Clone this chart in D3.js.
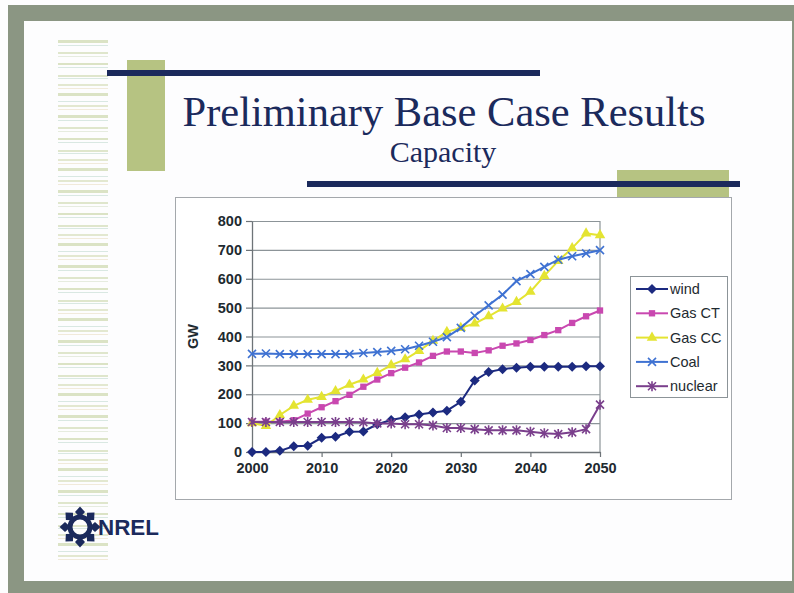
<!DOCTYPE html>
<html>
<head>
<meta charset="utf-8">
<script src="https://cdn.jsdelivr.net/npm/d3@7/dist/d3.min.js"></script>
<style>
  body { margin: 0; background: #fdfdfe; }
  svg { display: block; }
</style>
</head>
<body>
<script>
// chart data (GW, every second year)
const years = [2000, 2002, 2004, 2006, 2008, 2010, 2012, 2014, 2016, 2018, 2020, 2022, 2024,
               2026, 2028, 2030, 2032, 2034, 2036, 2038, 2040, 2042, 2044, 2046, 2048, 2050];
const wind    = [0, 0, 4, 20, 22, 49, 53, 70, 71, 96, 111, 120, 130, 137, 143, 174, 248, 277, 287, 292, 295, 295, 295, 295, 297, 297];
const gasCT   = [105, 105, 105, 110, 133, 155, 176, 198, 226, 251, 273, 292, 310, 333, 348, 348, 343, 352, 368, 376, 388, 405, 422, 447, 470, 490];
const gasCC   = [100, 90, 128, 160, 181, 191, 211, 233, 251, 274, 301, 321, 350, 385, 416, 430, 445, 470, 497, 520, 555, 610, 662, 706, 757, 751];
const coal    = [340, 341, 339, 339, 339, 339, 339, 339, 343, 346, 350, 356, 368, 382, 398, 430, 472, 508, 545, 592, 616, 641, 666, 678, 688, 699];
const nuclear = [104, 104, 104, 104, 104, 104, 104, 104, 103, 99, 99, 96, 96, 92, 83, 83, 79, 75, 75, 75, 70, 65, 62, 68, 79, 164];

const seriesNames = ["wind", "Gas CT", "Gas CC", "Coal", "nuclear"];
const yTicks = [0, 100, 200, 300, 400, 500, 600, 700, 800];
const xTicks = [2000, 2010, 2020, 2030, 2040, 2050];

const W = 794, H = 593;
const NAVY = "#1b2a5c";
const SAGE = "#8b9683";
const OLIVE = "#b6c382";

const series = [
  { name: seriesNames[0], values: wind,    color: "#1c2a80", marker: "diamond" },
  { name: seriesNames[1], values: gasCT,   color: "#c948b0", marker: "square" },
  { name: seriesNames[2], values: gasCC,   color: "#e4e432", marker: "triangle" },
  { name: seriesNames[3], values: coal,    color: "#3f72d2", marker: "x" },
  { name: seriesNames[4], values: nuclear, color: "#7a3f8c", marker: "star" }
];

const svg = d3.select("body").append("svg")
  .attr("width", W)
  .attr("height", H);

// slide frame
svg.append("rect").attr("x", 8).attr("y", 5).attr("width", W - 8).attr("height", H - 5).attr("fill", SAGE);
svg.append("rect").attr("x", 24).attr("y", 21).attr("width", 768).attr("height", 560).attr("fill", "#fdfdfe");

// pale stripes down the left side
const defs = svg.append("defs");
const pat = defs.append("pattern")
  .attr("id", "stripes")
  .attr("patternUnits", "userSpaceOnUse")
  .attr("width", 50).attr("height", 75);
const stripeRows = [
  [0, 2, "#dfe6cc"], [3, 1, "#d9e8e2"], [9, 2, "#e3e8d0"], [13, 1, "#f1eada"],
  [18, 3, "#dbe3c5"], [26, 1, "#d9e8e2"], [30, 2, "#e3e8d0"], [34, 1, "#f1eada"],
  [40, 3, "#dbe3c5"], [45, 1, "#d9e8e2"], [52, 2, "#dfe6cc"], [56, 1, "#e6ecdf"],
  [63, 2, "#dbe3c5"], [67, 1, "#d9e8e2"]
];
stripeRows.forEach(r => {
  pat.append("rect").attr("x", 0).attr("y", r[0]).attr("width", 50).attr("height", r[1]).attr("fill", r[2]);
});
svg.append("rect").attr("x", 58).attr("y", 40).attr("width", 50).attr("height", 525).attr("fill", "url(#stripes)");

// decorative blocks and rules
svg.append("rect").attr("x", 127).attr("y", 60).attr("width", 38).attr("height", 111).attr("fill", OLIVE);
svg.append("rect").attr("x", 617).attr("y", 170).attr("width", 112).attr("height", 27).attr("fill", OLIVE);
svg.append("rect").attr("x", 107).attr("y", 70).attr("width", 433).attr("height", 6).attr("fill", NAVY);
svg.append("rect").attr("x", 307).attr("y", 181).attr("width", 433).attr("height", 6).attr("fill", NAVY);

// titles
svg.append("text")
  .attr("x", 444).attr("y", 126)
  .attr("text-anchor", "middle")
  .style("font-family", "'Liberation Serif', 'Times New Roman', serif")
  .style("font-size", "42.5px")
  .style("fill", NAVY)
  .text("Preliminary Base Case Results");
svg.append("text")
  .attr("x", 443).attr("y", 162)
  .attr("text-anchor", "middle")
  .style("font-family", "'Liberation Serif', 'Times New Roman', serif")
  .style("font-size", "30px")
  .style("fill", NAVY)
  .text("Capacity");

// chart box
svg.append("rect")
  .attr("x", 175.5).attr("y", 197.5).attr("width", 556).attr("height", 302)
  .attr("fill", "#ffffff").attr("stroke", "#a4a8ac").attr("stroke-width", 1);

const plot = { left: 252, right: 600, top: 221, bottom: 452 };
const x = d3.scaleLinear().domain([2000, 2050]).range([plot.left, plot.right]);
const y = d3.scaleLinear().domain([0, 800]).range([plot.bottom, plot.top]);

const FONT = "Arial, 'Liberation Sans', Helvetica, sans-serif";

// gridlines
const grid = svg.append("g")
  .attr("transform", `translate(${plot.left},0)`)
  .call(d3.axisLeft(y).tickValues(yTicks.filter(v => v > 0)).tickSize(-(plot.right - plot.left)).tickFormat(""));
grid.select(".domain").remove();
grid.selectAll(".tick line").attr("stroke", "#8c9498").attr("stroke-width", 1.2);

// right plot border
svg.append("line")
  .attr("x1", plot.right).attr("x2", plot.right)
  .attr("y1", plot.top).attr("y2", plot.bottom)
  .attr("stroke", "#8c9498").attr("stroke-width", 1.2);

// axes
const yAxis = svg.append("g")
  .attr("transform", `translate(${plot.left},0)`)
  .call(d3.axisLeft(y).tickValues(yTicks).tickSize(6).tickSizeOuter(0).tickPadding(4));
const xAxis = svg.append("g")
  .attr("transform", `translate(0,${plot.bottom})`)
  .call(d3.axisBottom(x).tickValues(xTicks).tickFormat(d3.format("d")).tickSize(5).tickSizeOuter(0).tickPadding(6));

[yAxis, xAxis].forEach(a => {
  a.select(".domain").attr("stroke", "#6e7478").attr("stroke-width", 1.3);
  a.selectAll(".tick line").attr("stroke", "#6e7478").attr("stroke-width", 1.2);
  a.selectAll(".tick text")
    .style("font-family", FONT)
    .style("font-size", "14.5px")
    .style("font-weight", "bold")
    .style("fill", "#1e2a30");
});

svg.append("text")
  .attr("transform", `translate(198,${(plot.top + plot.bottom) / 2}) rotate(-90)`)
  .attr("text-anchor", "middle")
  .style("font-family", FONT)
  .style("font-size", "14.5px")
  .style("font-weight", "bold")
  .style("fill", "#1e2a30")
  .text("GW");

// markers
function drawMarker(g, kind, color) {
  if (kind === "diamond") {
    g.append("path").attr("d", "M0,-5L5,0L0,5L-5,0Z").attr("fill", color);
  } else if (kind === "square") {
    g.append("path").attr("d", d3.symbol(d3.symbolSquare, 40)()).attr("fill", color);
  } else if (kind === "triangle") {
    g.append("path").attr("d", d3.symbol(d3.symbolTriangle, 48)()).attr("fill", color);
  } else if (kind === "x") {
    g.append("path").attr("d", "M-4,-4L4,4M-4,4L4,-4").attr("stroke", color).attr("stroke-width", 1.6).attr("fill", "none");
  } else {
    g.append("path").attr("d", "M-4,-4L4,4M-4,4L4,-4M0,-5L0,5").attr("stroke", color).attr("stroke-width", 1.6).attr("fill", "none");
  }
}

const line = d3.line()
  .x(d => x(d[0]))
  .y(d => y(d[1]));

series.forEach(s => {
  const pts = years.map((yr, i) => [yr, s.values[i]]);
  svg.append("path")
    .datum(pts)
    .attr("fill", "none")
    .attr("stroke", s.color)
    .attr("stroke-width", 2)
    .attr("d", line);
  svg.append("g").selectAll("g")
    .data(pts).enter()
    .append("g")
    .attr("transform", d => `translate(${x(d[0])},${y(d[1])})`)
    .each(function() { drawMarker(d3.select(this), s.marker, s.color); });
});

// legend
const legend = svg.append("g");
legend.append("rect")
  .attr("x", 630.5).attr("y", 276.5).attr("width", 97).attr("height", 121)
  .attr("fill", "#ffffff").attr("stroke", "#8c9498").attr("stroke-width", 1);
series.forEach((s, i) => {
  const ly = 289 + i * 24.3;
  legend.append("line")
    .attr("x1", 636).attr("x2", 668).attr("y1", ly).attr("y2", ly)
    .attr("stroke", s.color).attr("stroke-width", 2);
  drawMarker(legend.append("g").attr("transform", `translate(652,${ly})`), s.marker, s.color);
  legend.append("text")
    .attr("x", 670).attr("y", ly + 5)
    .style("font-family", FONT)
    .style("font-size", "14.5px")
    .style("fill", "#1e2a30")
    .text(s.name);
});

// NREL logo
const logo = svg.append("g").attr("transform", "translate(80,527)");
logo.append("circle").attr("r", 10).attr("fill", "none").attr("stroke", NAVY).attr("stroke-width", 5);
d3.range(8).forEach(k => {
  logo.append("path")
    .attr("d", "M0,-5.5L5,0L0,5.5L-5,0Z")
    .attr("transform", `rotate(${k * 45}) translate(0,-15)`)
    .attr("fill", NAVY);
});
svg.append("text")
  .attr("x", 98).attr("y", 535)
  .attr("textLength", 61)
  .attr("lengthAdjust", "spacingAndGlyphs")
  .style("font-family", FONT)
  .style("font-size", "22px")
  .style("font-weight", "900")
  .style("fill", NAVY)
  .text("NREL");
</script>
</body>
</html>
